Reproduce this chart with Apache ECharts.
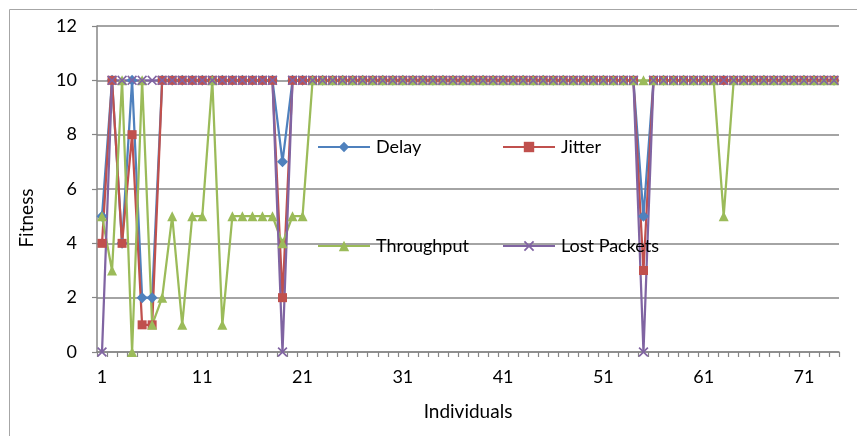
<!DOCTYPE html>
<html>
<head>
<meta charset="utf-8">
<script src="https://cdn.jsdelivr.net/npm/echarts@6/dist/echarts.min.js"></script>
<style>html,body{margin:0;padding:0;background:#fff;}#c{width:857px;height:436px;}</style>
</head>
<body>
<div id="c"></div>
<script>
var categories = [1,2,3,4,5,6,7,8,9,10,11,12,13,14,15,16,17,18,19,20,21,22,23,24,25,26,27,28,29,30,31,32,33,34,35,36,37,38,39,40,41,42,43,44,45,46,47,48,49,50,51,52,53,54,55,56,57,58,59,60,61,62,63,64,65,66,67,68,69,70,71,72,73,74];
var delay = [5,10,4,10,2,2,10,10,10,10,10,10,10,10,10,10,10,10,7,10,10,10,10,10,10,10,10,10,10,10,10,10,10,10,10,10,10,10,10,10,10,10,10,10,10,10,10,10,10,10,10,10,10,10,5,10,10,10,10,10,10,10,10,10,10,10,10,10,10,10,10,10,10,10];
var jitter = [4,10,4,8,1,1,10,10,10,10,10,10,10,10,10,10,10,10,2,10,10,10,10,10,10,10,10,10,10,10,10,10,10,10,10,10,10,10,10,10,10,10,10,10,10,10,10,10,10,10,10,10,10,10,3,10,10,10,10,10,10,10,10,10,10,10,10,10,10,10,10,10,10,10];
var throughput = [5,3,10,0,10,1,2,5,1,5,5,10,1,5,5,5,5,5,4,5,5,10,10,10,10,10,10,10,10,10,10,10,10,10,10,10,10,10,10,10,10,10,10,10,10,10,10,10,10,10,10,10,10,10,10,10,10,10,10,10,10,10,5,10,10,10,10,10,10,10,10,10,10,10];
var lostPackets = [0,10,10,10,10,10,10,10,10,10,10,10,10,10,10,10,10,10,0,10,10,10,10,10,10,10,10,10,10,10,10,10,10,10,10,10,10,10,10,10,10,10,10,10,10,10,10,10,10,10,10,10,10,10,0,10,10,10,10,10,10,10,10,10,10,10,10,10,10,10,10,10,10,10];
var yTicks = [0,2,4,6,8,10,12];

var FONT = 'Lato';
var FS = 18;
var xPath = 'path://M0,1.2L1.2,0L5,3.8L8.8,0L10,1.2L6.2,5L10,8.8L8.8,10L5,6.2L1.2,10L0,8.8L3.8,5Z';
var colors = ['#4F81BD','#C0504D','#9BBB59','#8064A2'];

function mkSeries(name, data, color, symbol, size) {
  return {
    name: name, type: 'line', data: data,
    symbol: symbol, symbolSize: size, showAllSymbol: true,
    lineStyle: {color: color, width: 2.25},
    itemStyle: {color: color},
    emphasis: {disabled: true},
    animation: false
  };
}
function mkLegend(name, left, top) {
  return {
    data: [name], left: left, top: top, padding: 0,
    itemWidth: 52, itemHeight: 13, itemGap: 0,
    textStyle: {fontFamily: FONT, fontSize: FS, color: '#000', padding: [0,0,0,1]},
    selectedMode: false
  };
}

var chart = echarts.init(document.getElementById('c'), null, {renderer: 'canvas'});
chart.setOption({
  animation: false,
  backgroundColor: '#fff',
  color: colors,
  grid: {left: 97, right: 18, top: 26, bottom: 84, containLabel: false},
  legend: [
    mkLegend('Delay', 317, 138),
    mkLegend('Jitter', 502, 138),
    mkLegend('Throughput', 317, 237),
    mkLegend('Lost Packets', 502, 237)
  ],
  xAxis: {
    type: 'category', data: categories, boundaryGap: true,
    name: 'Individuals', nameLocation: 'middle', nameGap: 50,
    nameTextStyle: {fontFamily: FONT, fontSize: 19, color: '#000'},
    axisLine: {lineStyle: {color: '#868686', width: 1.5}},
    axisTick: {show: true, interval: 0, length: 5, lineStyle: {color: '#868686', width: 1.2}},
    axisLabel: {interval: 9, fontFamily: FONT, fontSize: FS, color: '#000', margin: 16},
    splitLine: {show: false}
  },
  yAxis: {
    type: 'value', min: 0, max: 12, interval: 2,
    axisLine: {show: true, lineStyle: {color: '#868686', width: 1.5}},
    axisTick: {show: true, length: 5, lineStyle: {color: '#868686', width: 1.2}},
    axisLabel: {fontFamily: FONT, fontSize: FS, color: '#000', margin: 20,
      formatter: function (v) { return yTicks.indexOf(v) >= 0 ? String(v) : ''; }},
    splitLine: {show: true, lineStyle: {color: '#868686', width: 1.5}}
  },
  graphic: [
    {type: 'rect', silent: true, shape: {x: 9.5, y: 9.5, width: 900, height: 500},
     style: {fill: 'none', stroke: '#a6a6a6', lineWidth: 1}},
    {type: 'text', silent: true, x: 27, y: 218, rotation: Math.PI / 2,
     style: {text: 'Fitness', fontFamily: FONT, fontSize: 19, fill: '#000', align: 'center', verticalAlign: 'middle'}}
  ],
  series: [
    mkSeries('Delay', delay, colors[0], 'diamond', 11),
    mkSeries('Jitter', jitter, colors[1], 'rect', 9),
    mkSeries('Throughput', throughput, colors[2], 'triangle', 10),
    mkSeries('Lost Packets', lostPackets, colors[3], xPath, 10)
  ]
});
</script>
</body>
</html>
